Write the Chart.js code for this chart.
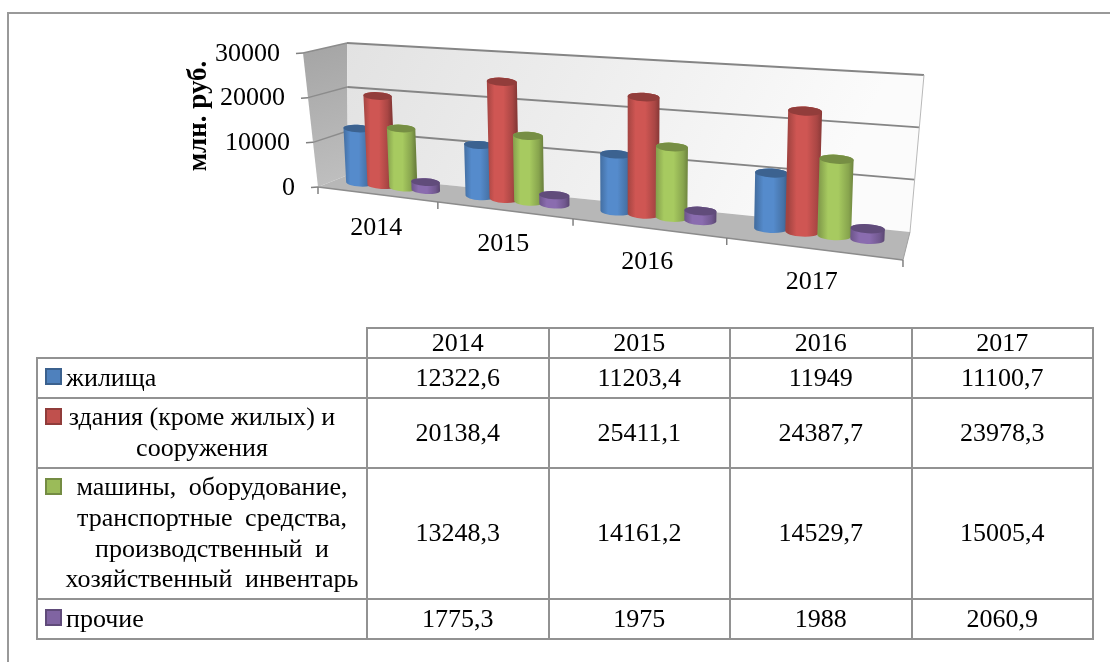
<!DOCTYPE html>
<html>
<head>
<meta charset="utf-8">
<script src="https://cdn.jsdelivr.net/npm/chart.js@4"></script>
<style>
  html, body { margin: 0; padding: 0; background: #fff; overflow: hidden; }
  body { width: 1110px; height: 662px; position: relative; font-family: "Liberation Serif", serif; color: #000; }
  #frame { position: absolute; left: 7px; top: 12px; width: 1110px; height: 700px; border-left: 2px solid #999; border-top: 2px solid #999; }
  #chartBox { position: absolute; left: 0; top: 0; width: 1110px; height: 330px; }
  #dataTable { position: absolute; left: 36px; top: 327px; border-collapse: collapse; table-layout: fixed; font-size: 26px; line-height: 30.6px; }
  #dataTable td { border: 2px solid #929292; text-align: center; padding: 0; position: relative; }
  #dataTable tr.head td { line-height: 28px; }
  #dataTable td.empty { border-left: none; border-top: none; }
  #dataTable td.left { text-align: left; padding-left: 28px; }
  #dataTable td.shift { padding-left: 20px; word-spacing: 6px; }
  .key { position: absolute; left: 7px; top: 9px; width: 13px; height: 13px; border: 2px solid; }
</style>
</head>
<body>
<div id="frame"></div>
<div id="chartBox"><canvas id="graph"></canvas></div>
<table id="dataTable"></table>
<script>
const years = ["2014", "2015", "2016", "2017"];
const seriesNames = [
  "жилища",
  "здания (кроме жилых) и<br>сооружения",
  "машины, оборудование,<br>транспортные средства,<br>производственный и<br>хозяйственный инвентарь",
  "прочие",
];
const housing = [12322.6, 11203.4, 11949, 11100.7];
const buildings = [20138.4, 25411.1, 24387.7, 23978.3];
const machines = [13248.3, 14161.2, 14529.7, 15005.4];
const other = [1775.3, 1975, 1988, 2060.9];
const seriesColors = ["#4f81bd", "#c0504d", "#9bbb59", "#8064a2"];
const yTicks = [0, 10000, 20000, 30000];

const allValues = [housing, buildings, machines, other];

// corners of the 3d box on screen, f = front, b = back, 0 = floor, 1 = top
const box = {
  f0l: [318, 187], f0r: [903, 260], b0l: [348, 175], b0r: [910, 232],
  f1l: [303, 53], f1r: [899, 100], b1l: [347, 43], b1r: [924, 75],
};

function mix(a, b, t) {
  return [a[0] + (b[0] - a[0]) * t, a[1] + (b[1] - a[1]) * t];
}

// perspective along the width, then a plain interpolation between corners
function project(u, v, d) {
  const k = (380 * u + 318) / (1 - 0.227 * u);
  const p = (k - 318) / 585;
  const f = mix(mix(box.f0l, box.f0r, p), mix(box.f1l, box.f1r, p), v);
  const b = mix(mix(box.b0l, box.b0r, p), mix(box.b1l, box.b1r, p), v);
  return mix(f, b, d);
}

function shade(hex, k) {
  const n = parseInt(hex.slice(1), 16);
  const c = [n >> 16, (n >> 8) & 255, n & 255].map(x => Math.min(255, Math.round(x * k)));
  return `rgb(${c[0]},${c[1]},${c[2]})`;
}

function quad(ctx, pts, fill) {
  ctx.beginPath();
  pts.forEach((p, i) => (i ? ctx.lineTo(p[0], p[1]) : ctx.moveTo(p[0], p[1])));
  ctx.closePath();
  ctx.fillStyle = fill;
  ctx.fill();
}

function line(ctx, a, b, color, width) {
  ctx.beginPath();
  ctx.moveTo(a[0], a[1]);
  ctx.lineTo(b[0], b[1]);
  ctx.strokeStyle = color;
  ctx.lineWidth = width;
  ctx.stroke();
}

function drawWalls(chart) {
  const ctx = chart.ctx;
  const yScale = chart.scales.y;
  const area = chart.chartArea;

  let grad = ctx.createLinearGradient(303, 43, 348, 187);
  grad.addColorStop(0, "#a4a4a4");
  grad.addColorStop(1, "#c0c0c0");
  quad(ctx, [box.f1l, box.b1l, box.b0l, box.f0l], grad);

  grad = ctx.createLinearGradient(347, 43, 800, 260);
  grad.addColorStop(0, "#e2e2e2");
  grad.addColorStop(1, "#fbfbfb");
  quad(ctx, [box.b1l, box.b1r, box.b0r, box.b0l], grad);

  quad(ctx, [box.b0l, box.b0r, box.f0r, box.f0l], "#b7b7b7");

  // gridlines and value ticks come from the y scale
  yScale.ticks.forEach(t => {
    const v = (area.bottom - yScale.getPixelForValue(t.value)) / area.height;
    const front = project(0, v, 0);
    const back = project(0, v, 1);
    const right = project(1, v, 1);
    if (v > 0) {
      line(ctx, front, back, "#8c8c8c", 1.4);
      line(ctx, back, right, "#858585", 1.8);
    }
    line(ctx, [front[0] - 7, front[1] + 0.5], front, "#808080", 1.5);
    ctx.font = '26px "Liberation Serif"';
    ctx.fillStyle = "#000";
    ctx.textAlign = "right";
    ctx.textBaseline = "middle";
    ctx.fillText(String(t.value), front[0] - 23, front[1] + 1);
  });

  line(ctx, box.f0l, box.f0r, "#8c8c8c", 1.5);
  line(ctx, box.f0r, box.b0r, "#a0a0a0", 1);
  line(ctx, box.b0r, box.b1r, "#b8b8b8", 1);

  // category ticks and labels from the x scale
  const xScale = chart.scales.x;
  for (let i = 0; i <= years.length; i++) {
    const p = project(i / years.length, 0, 0);
    line(ctx, p, [p[0], p[1] + 7], "#808080", 1.5);
  }
  years.forEach((label, i) => {
    const u = (xScale.getPixelForValue(i) - area.left) / area.width;
    const p = project(u, 0, 0);
    ctx.fillStyle = "#000";
    ctx.textAlign = "center";
    ctx.textBaseline = "middle";
    ctx.font = '26px "Liberation Serif"';
    ctx.fillText(label, p[0], p[1] + 34);
  });
}

function drawCylinder(ctx, bar, color, area) {
  const depth = 0.58;
  // bars at the far right looked too fat with the full perspective
  const centre = (bar.x - area.left) / area.width;
  const fat = 1.32 - 0.32 * centre;
  const uL = (bar.x - bar.width * fat / 2 - area.left) / area.width;
  const uR = (bar.x + bar.width * fat / 2 - area.left) / area.width;
  const v = 0.985 * (area.bottom - bar.y) / area.height;
  const bl = project(uL, 0, depth);
  const br = project(uR, 0, depth);
  const tl = project(uL, v, depth);
  const tr = project(uR, v, depth);

  const rx = (tr[0] - tl[0]) / 2;
  const ry = rx * 0.27;
  const tilt = Math.atan2(br[1] - bl[1], br[0] - bl[0]) * 0.5;
  const topC = mix(tl, tr, 0.5);
  const baseC = mix(bl, br, 0.5);

  const grad = ctx.createLinearGradient(tl[0], 0, tr[0], 0);
  grad.addColorStop(0, shade(color, 0.85));
  grad.addColorStop(0.25, shade(color, 1.08));
  grad.addColorStop(0.55, shade(color, 1.08));
  grad.addColorStop(0.85, shade(color, 0.88));
  grad.addColorStop(1, shade(color, 0.7));

  ctx.beginPath();
  ctx.ellipse(topC[0], topC[1], rx, ry, tilt, Math.PI, 0, false);
  ctx.ellipse(baseC[0], baseC[1], (br[0] - bl[0]) / 2, ry, tilt, 0, Math.PI, false);
  ctx.closePath();
  ctx.fillStyle = grad;
  ctx.fill();

  ctx.beginPath();
  ctx.ellipse(topC[0], topC[1], rx, ry, tilt, 0, Math.PI * 2);
  ctx.fillStyle = shade(color, 0.76);
  ctx.fill();
}

// the library lays the bars out, this plugin paints them on the 3d box
const box3d = {
  id: "box3d",
  beforeDatasetsDraw(chart) {
    drawWalls(chart);
    chart.data.datasets.forEach((ds, i) => {
      chart.getDatasetMeta(i).data.forEach(bar => {
        drawCylinder(chart.ctx, bar, ds.backgroundColor, chart.chartArea);
      });
    });
    return false;
  },
};

new Chart(document.getElementById("graph"), {
  type: "bar",
  data: {
    labels: years,
    datasets: allValues.map((values, i) => ({
      label: seriesNames[i],
      data: values,
      backgroundColor: seriesColors[i],
    })),
  },
  options: {
    responsive: true,
    maintainAspectRatio: false,
    animation: false,
    events: [],
    categoryPercentage: 0.75,
    barPercentage: 1,
    layout: { padding: { left: 183, top: 53, right: 207, bottom: 143 } },
    plugins: { legend: { display: false }, tooltip: { enabled: false } },
    scales: {
      x: { grid: { display: false }, border: { display: false }, ticks: { display: false } },
      y: {
        min: yTicks[0],
        max: yTicks[yTicks.length - 1],
        afterBuildTicks(scale) { scale.ticks = yTicks.map(v => ({ value: v })); },
        grid: { display: false },
        border: { display: false },
        ticks: { display: false },
        title: {
          display: true,
          text: "млн. руб.",
          color: "#000",
          font: { family: '"Liberation Serif"', size: 27, weight: "bold" },
          padding: { top: 0, bottom: 100 },
        },
      },
    },
  },
  plugins: [box3d],
});

// table under the chart
const table = document.getElementById("dataTable");
let html = '<colgroup><col style="width:330px">' + years.map(() => '<col style="width:181.5px">').join("") + "</colgroup>";
html += '<tr class="head" style="height:30px"><td class="empty"></td>' + years.map(y => `<td>${y}</td>`).join("") + "</tr>";
const rowHeights = [40, 70, 131, 40];
const rowClass = ["left", "", "shift", "left"];
seriesNames.forEach((name, i) => {
  const cells = allValues[i].map(v => `<td>${String(v).replace(".", ",")}</td>`).join("");
  const key = `<span class="key" style="background:${seriesColors[i]};border-color:${shade(seriesColors[i], 0.75)}"></span>`;
  html += `<tr style="height:${rowHeights[i]}px"><td class="${rowClass[i]}">${key}${name}</td>${cells}</tr>`;
});
table.innerHTML = html;
</script>
</body>
</html>
